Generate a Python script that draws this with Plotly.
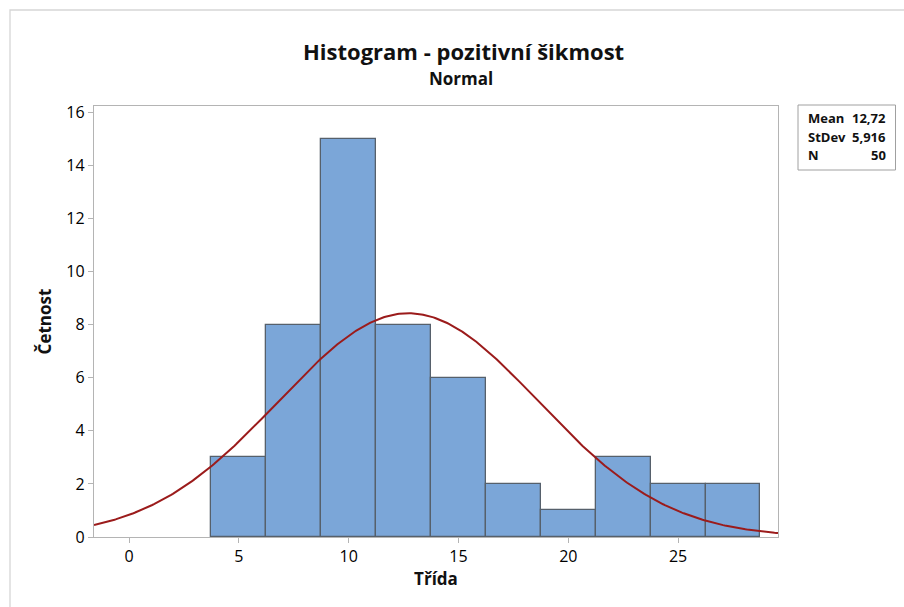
import numpy as np
import plotly.graph_objects as go

# Histogram bins (centres) and counts
bin_centers = [5.0, 7.5, 10.0, 12.5, 15.0, 17.5, 20.0, 22.5, 25.0, 27.5]
counts = [3, 8, 15, 8, 6, 2, 1, 3, 2, 2]
bin_width = 2.5

# Fitted normal distribution parameters
mean = 12.72
stdev = 5.916
n_obs = 50

x_ticks = [0, 5, 10, 15, 20, 25]
y_ticks = [0, 2, 4, 6, 8, 10, 12, 14, 16]
x_range = [-1.6, 29.55]
y_range = [0, 16.24]

FONT = "Open Sans"

# Normal density scaled to counts
xs = np.linspace(x_range[0], x_range[1], 400)
ys = n_obs * bin_width / (stdev * np.sqrt(2 * np.pi)) * np.exp(-0.5 * ((xs - mean) / stdev) ** 2)

fig = go.Figure()
fig.add_trace(go.Bar(
    x=bin_centers, y=counts, width=bin_width,
    marker=dict(color="#7BA6D8", line=dict(color="#56606B", width=1.3)),
    hoverinfo="x+y",
))
fig.add_trace(go.Scatter(
    x=xs, y=ys, mode="lines",
    line=dict(color="#9B1B1B", width=2),
    hoverinfo="skip",
))

axis_common = dict(
    showline=True, linecolor="#B4B4B4", linewidth=1.3, mirror=True,
    ticks="outside", ticklen=5, tickcolor="#B4B4B4", tickwidth=1,
    showgrid=False, zeroline=False,
    tickfont=dict(family=FONT, size=16, color="#000000", weight=500),
)

fig.update_layout(
    width=904, height=607,
    margin=dict(l=94, r=126, t=106, b=70),
    paper_bgcolor="white", plot_bgcolor="white",
    showlegend=False,
    bargap=0,
    xaxis=dict(range=x_range, tickvals=x_ticks, **axis_common,
               title=dict(text="<b>Třída</b>", font=dict(family=FONT, size=17, color="#111111"), standoff=6)),
    yaxis=dict(range=y_range, tickvals=y_ticks, **axis_common,
               title=dict(text="<b>Četnost</b>", font=dict(family=FONT, size=17, color="#111111"), standoff=10)),
)

W, H = 684, 431
def px(x):
    return (x - 94) / W
def py(y):
    return (537 - y) / H

# Outer frame
fig.add_shape(type="rect", xref="paper", yref="paper",
              x0=px(10), x1=px(915), y0=py(620), y1=py(10),
              line=dict(color="#D6D6D6", width=1.3), fillcolor="rgba(0,0,0,0)", layer="below")

# Titles
fig.add_annotation(text="<b>Histogram - pozitivní šikmost</b>", xref="paper", yref="paper",
                   x=px(463), y=py(51), showarrow=False, xanchor="center", yanchor="middle",
                   font=dict(family=FONT, size=22, color="#111111"))
fig.add_annotation(text="<b>Normal</b>", xref="paper", yref="paper",
                   x=px(461), y=py(78), showarrow=False, xanchor="center", yanchor="middle",
                   font=dict(family=FONT, size=17, color="#111111"))

# Statistics box
fig.add_shape(type="rect", xref="paper", yref="paper",
              x0=px(798), x1=px(895.5), y0=py(170), y1=py(105),
              line=dict(color="#A0A0A0", width=1), fillcolor="white")
labels = ["Mean", "StDev", "N"]
values = [f"{mean:.2f}".replace(".", ","), f"{stdev:.3f}".replace(".", ","), str(n_obs)]
rows_y = [118, 137, 155]
for lab, val, ry in zip(labels, values, rows_y):
    fig.add_annotation(text=f"<b>{lab}</b>", xref="paper", yref="paper", x=px(806), y=py(ry),
                       showarrow=False, xanchor="left", yanchor="middle",
                       font=dict(family=FONT, size=13, color="#111111"))
    fig.add_annotation(text=f"<b>{val}</b>", xref="paper", yref="paper", x=px(888), y=py(ry),
                       showarrow=False, xanchor="right", yanchor="middle",
                       font=dict(family=FONT, size=13, color="#111111"))

fig.write_html("out.html")
